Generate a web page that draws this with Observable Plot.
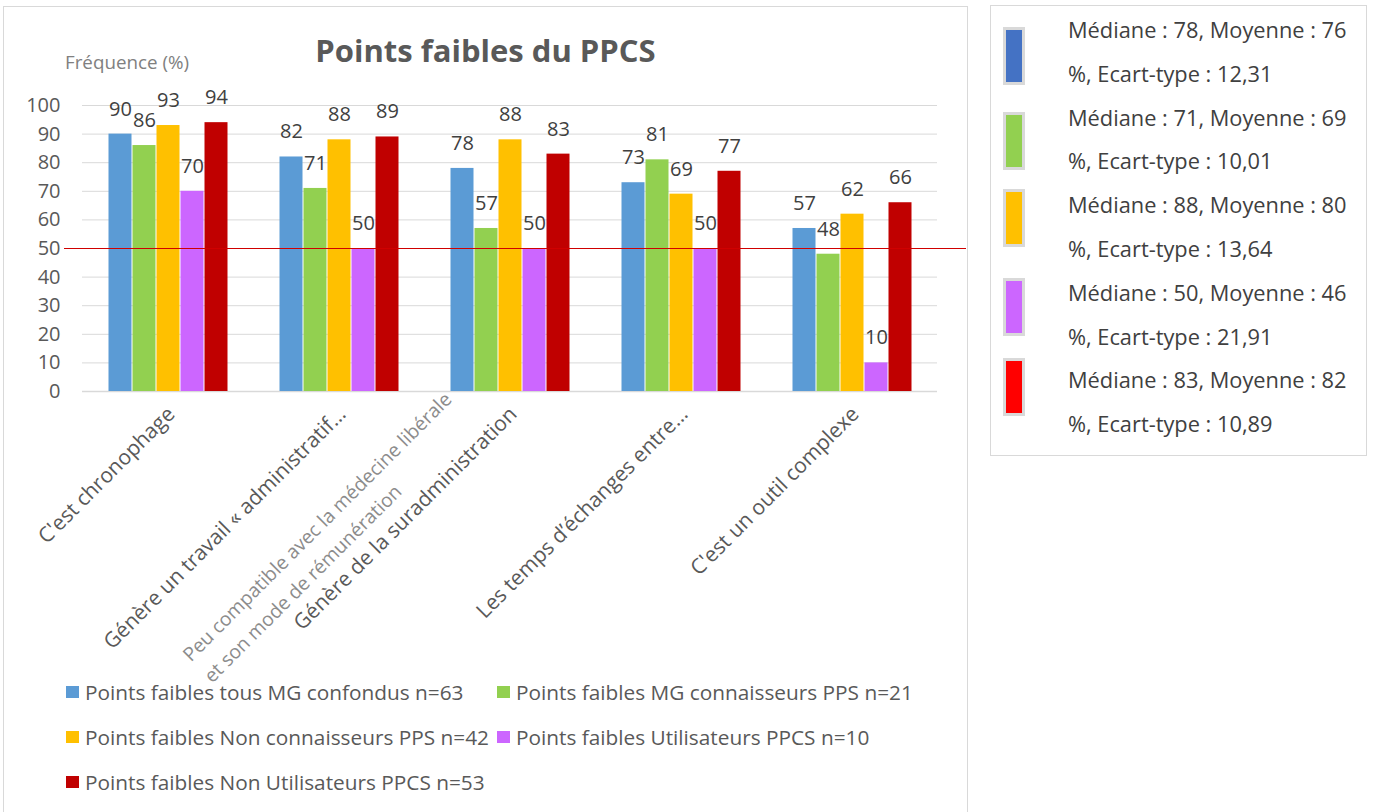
<!DOCTYPE html>
<html>
<head>
<meta charset="utf-8">
<script src="https://cdn.jsdelivr.net/npm/d3@7"></script>
<script src="https://cdn.jsdelivr.net/npm/@observablehq/plot@0.6"></script>
<style>
  html, body { margin: 0; padding: 0; background: #fff; }
  body { width: 1373px; height: 812px; position: relative; overflow: hidden; font-family: "Open Sans", sans-serif; }
  #frame { position: absolute; left: 3px; top: 6px; width: 965px; height: 830px; border: 1px solid #d9d9d9; box-sizing: border-box; }
  #plot { position: absolute; left: 0; top: 0; }
  #title { position: absolute; left: 3px; top: 35px; width: 965px; text-align: center; font-weight: 700; font-size: 31px; line-height: 31px; color: #595959; white-space: nowrap; }
  #ylabel { position: absolute; left: 65px; top: 53px; font-size: 18.8px; line-height: 19px; color: #808080; white-space: nowrap; }
  .leg { position: absolute; height: 30px; display: flex; align-items: center; font-size: 20.8px; color: #595959; white-space: nowrap; }
  .leg i { display: inline-block; width: 13px; height: 12px; margin-right: 6px; }
  #side { position: absolute; left: 990px; top: 5px; width: 377px; height: 451px; border: 1px solid #d9d9d9; box-sizing: border-box; }
  #sidetext { position: absolute; left: 1068px; top: 8px; font-size: 21.8px; line-height: 43.8px; color: #404040; white-space: nowrap; }
  .sw { position: absolute; left: 1003px; width: 22px; height: 58px; border: 3px solid #d9d9d9; box-sizing: border-box; }
</style>
</head>
<body>
<div id="frame"></div>
<div id="plot"></div>
<div id="title"></div>
<div id="ylabel"></div>
<div id="legend"></div>
<div id="side"></div>
<div id="sidetext"></div>
<div id="sideswatches"></div>
<script>
// ---------- data ----------
const title = "Points faibles du PPCS";
const yLabel = "Fréquence (%)";
const categories = [
  "C'est chronophage",
  "Génère un travail « administratif…",
  "Génère de la suradministration",
  "Les temps d’échanges entre…",
  "C'est un outil complexe"
];
const series = [
  "Points faibles tous MG confondus n=63",
  "Points faibles MG connaisseurs PPS n=21",
  "Points faibles Non connaisseurs PPS n=42",
  "Points faibles Utilisateurs PPCS n=10",
  "Points faibles Non Utilisateurs PPCS n=53"
];
const seriesColors = ["#5b9bd5", "#92d050", "#ffc000", "#cc66ff", "#c00000"];
const tousMG          = [90, 82, 78, 73, 57];
const connaisseurs    = [86, 71, 57, 81, 48];
const nonConnaisseurs = [93, 88, 88, 69, 62];
const utilisateurs    = [70, 50, 50, 50, 10];
const nonUtilisateurs = [94, 89, 83, 77, 66];
const yTicks = [0, 10, 20, 30, 40, 50, 60, 70, 80, 90, 100];
const threshold = 50;
const noteText = "Peu compatible avec la médecine libérale\net son mode de rémunération";
const noteCategory = categories[1];
const statLines = [
  "Médiane : 78, Moyenne : 76", "%, Ecart-type : 12,31",
  "Médiane : 71, Moyenne : 69", "%, Ecart-type : 10,01",
  "Médiane : 88, Moyenne : 80", "%, Ecart-type : 13,64",
  "Médiane : 50, Moyenne : 46", "%, Ecart-type : 21,91",
  "Médiane : 83, Moyenne : 82", "%, Ecart-type : 10,89"
];
const statColors = ["#4472c4", "#92d050", "#ffc000", "#cc66ff", "#ff0000"];

// ---------- table ----------
const valuesBySeries = [tousMG, connaisseurs, nonConnaisseurs, utilisateurs, nonUtilisateurs];
const rows = [];
categories.forEach((c, ci) => series.forEach((s, si) => rows.push({category: c, series: s, value: valuesBySeries[si][ci]})));

// ---------- chart ----------
const chart = Plot.plot({
  width: 968,
  height: 700,
  marginLeft: 80,
  marginRight: 29,
  marginTop: 105,
  marginBottom: 309,
  style: {background: "transparent", fontFamily: "Open Sans", overflow: "visible"},
  fx: {domain: categories, paddingInner: 0, paddingOuter: 0, axis: null, label: null},
  x: {domain: series, paddingInner: 0, paddingOuter: 1, axis: null, label: null},
  y: {domain: [0, 100], label: null},
  color: {domain: series, range: seriesColors},
  marks: [
    Plot.gridY(yTicks, {stroke: "#d9d9d9", strokeOpacity: 1}),
    Plot.ruleY([0], {stroke: "#d9d9d9", strokeWidth: 1.5}),
    Plot.axisY(yTicks, {tickSize: 0, tickPadding: 22, fontSize: 20, fill: "#595959", label: null}),
    Plot.barY(rows, {fx: "category", x: "series", y: "value", fill: "series", insetLeft: 0.5, insetRight: 0.5}),
    Plot.ruleY([threshold], {stroke: "#d00000", strokeWidth: 1, insetLeft: -18, insetRight: -29}),
    Plot.text(rows, {fx: "category", x: "series", y: "value", text: d => String(d.value), dy: -25, fontSize: 20, fill: "#404040"}),
    Plot.text(categories, {fx: d => d, text: d => d, frameAnchor: "bottom", rotate: -45, textAnchor: "end", dx: 8, dy: 24, fontSize: 21, fill: "#595959"}),
    Plot.text([noteText], {fx: () => noteCategory, text: d => d, frameAnchor: "bottom", rotate: -45, textAnchor: "start", lineAnchor: "top", lineHeight: 1.55, dx: -163, dy: 256, fontSize: 19.3, fill: "#8c8c8c"})
  ]
});
document.getElementById("plot").appendChild(chart);

document.getElementById("title").textContent = title;
document.getElementById("ylabel").textContent = yLabel;

// bottom legend (two columns)
const legend = document.getElementById("legend");
const colX = [66, 497];
const rowY = [692, 737, 782];
series.forEach((s, i) => {
  const d = document.createElement("div");
  d.className = "leg";
  d.style.left = colX[i % 2] + "px";
  d.style.top = (rowY[Math.floor(i / 2)] - 15) + "px";
  const sw = document.createElement("i");
  sw.style.background = seriesColors[i];
  d.appendChild(sw);
  d.appendChild(document.createTextNode(s));
  legend.appendChild(d);
});

// side statistics box
document.getElementById("sidetext").innerHTML = statLines.join("<br>");
const swTops = [27, 112, 189, 278, 358];
const sws = document.getElementById("sideswatches");
statColors.forEach((c, i) => {
  const d = document.createElement("div");
  d.className = "sw";
  d.style.top = swTops[i] + "px";
  d.style.background = c;
  sws.appendChild(d);
});
</script>
</body>
</html>
